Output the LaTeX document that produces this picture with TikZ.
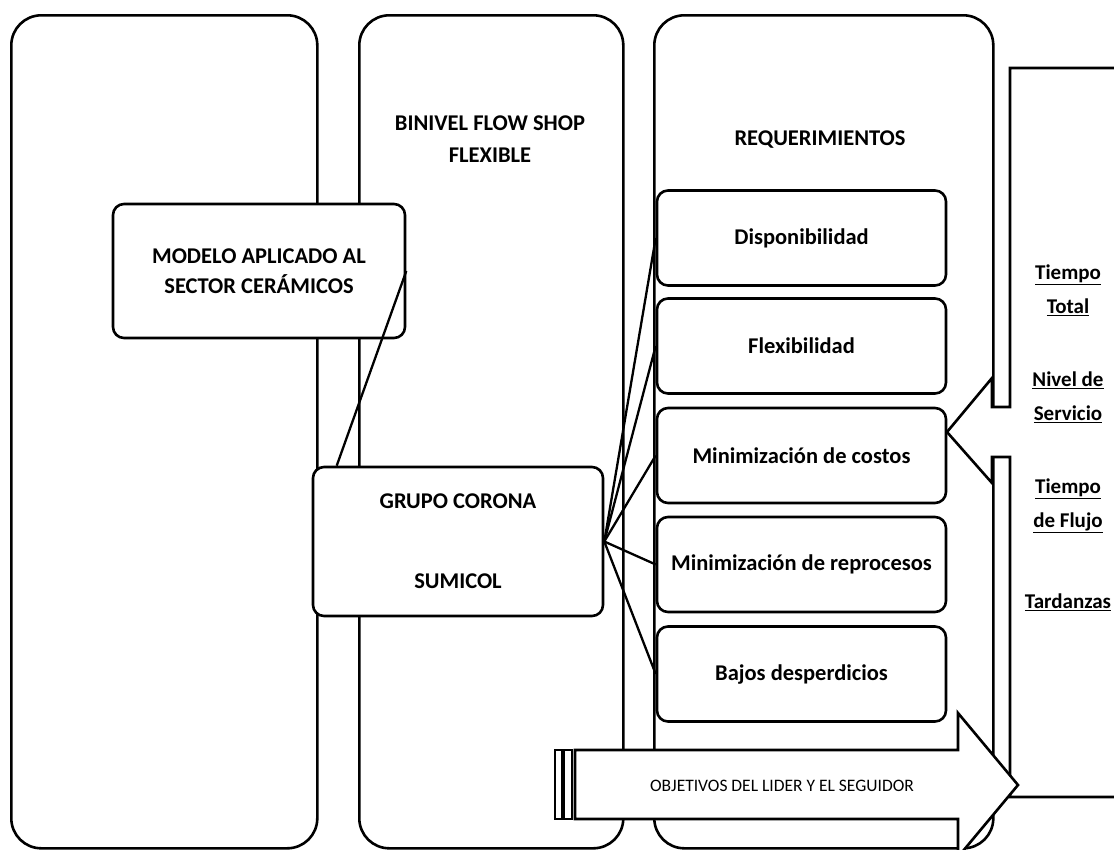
\documentclass[tikz,border=0pt]{standalone}
\usepackage{fontspec}
\setmainfont{Carlito}
\usetikzlibrary{calc}
\begin{document}
\begin{tikzpicture}[x=1pt,y=-1pt,
  outl/.style={draw, line width=2.6pt},
  col/.style={outl, rounded corners=30pt, fill=white, inner sep=0pt, anchor=north west},
  box/.style={outl, rounded corners=11pt, fill=white, inner sep=0pt, align=center,
    font=\bfseries\fontsize{22.5}{30}\selectfont},
  reqbox/.style={box, minimum width=289pt, minimum height=95pt},
  lbl/.style={align=center, font=\bfseries\fontsize{22.5}{32}\selectfont},
  rlbl/.style={align=center, font=\bfseries\fontsize{21}{34}\selectfont},
  conn/.style={line width=2.3pt},
]
\useasboundingbox (0,0) rectangle (1114,849);
\clip (0,0) rectangle (1114,849);
% columns
\node[col, minimum width=306pt, minimum height=833pt] (c1) at (10,14) {};
\node[col, minimum width=264pt, minimum height=833pt] (c2) at (358,14) {};
\node[col, minimum width=339pt, minimum height=833pt] (c3) at (653,14) {};
% headers
\node[lbl] (bin) at (490,139) {BINIVEL FLOW SHOP\\FLEXIBLE};
\node[lbl] (req) at (820,140) {REQUERIMIENTOS};
% boxes
\node[box, minimum width=292pt, minimum height=134pt] (modelo) at (259,271) {MODELO APLICADO AL\\SECTOR CERÁMICOS};
\node[box, minimum width=290pt, minimum height=149pt] (grupo) at (458,541.5) {GRUPO CORONA\\[50pt]SUMICOL};
\node[reqbox] (disp) at (801.5,238) {Disponibilidad};
\node[reqbox] (flex) at (801.5,346) {Flexibilidad};
\node[reqbox] (cost) at (801.5,455.5) {Minimización de costos};
\node[reqbox] (repr) at (801.5,564.5) {Minimización de reprocesos};
\node[reqbox] (baj) at (801.5,674) {Bajos desperdicios};
% connectors
\coordinate (gtop) at ($(grupo.north west)+(25,0)$);
\draw[conn] (modelo.east) -- (gtop);
\foreach \t in {disp,flex,cost,repr,baj}{
  \draw[conn] (grupo.east) -- (\t.west);
}
% left arrow callout on the right
\coordinate (tip) at (947,432);
\draw[outl, fill=white, line join=miter] (1130,68) -- (1010,68) -- (1010,407) -- (992,407) -- (992,378)
  -- (tip) -- (992,483) -- (992,457) -- (1010,457) -- (1010,797) -- (1130,797);
% striped arrow at bottom
\draw[outl, fill=white, line join=miter] (575,750) -- (958,750) -- (958,713) -- (1018,785) -- (958,857)
  -- (958,819) -- (575,819) -- cycle;
\draw[outl, fill=white] (555,750) rectangle (562,819);
\draw[outl, fill=white] (564,750) rectangle (572,819);
\node[font=\fontsize{17.5}{20}\selectfont] (obj) at (782,786) {OBJETIVOS DEL LIDER Y EL SEGUIDOR};
% right labels
\node[rlbl] (tt) at (1068,290) {\underline{Tiempo}\\\underline{Total}};
\node[rlbl] (ns) at (1068,397) {\underline{Nivel de}\\\underline{Servicio}};
\node[rlbl] (tf) at (1068,506) {\underline{Tiempo}\\\underline{de Flujo}};
\node[rlbl] (ta) at (1068,602) {\underline{Tardanzas}};
\end{tikzpicture}
\end{document}
